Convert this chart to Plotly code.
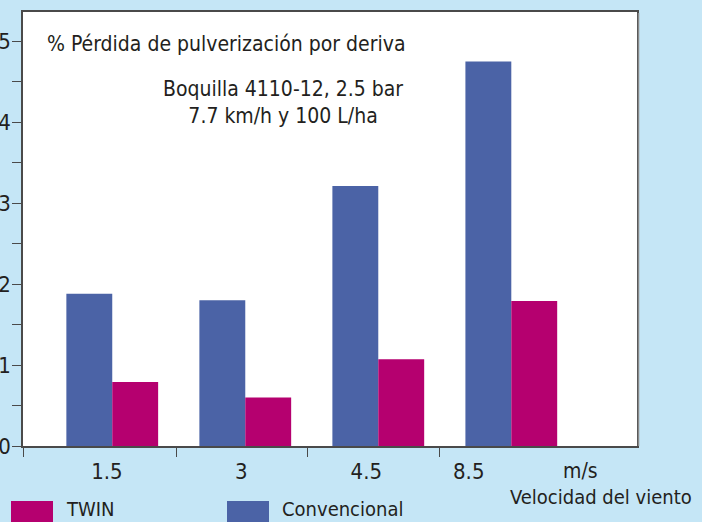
import plotly.graph_objects as go

categories = ["1.5", "3", "4.5", "8.5"]
convencional = [1.88, 1.80, 3.21, 4.75]
twin = [0.79, 0.60, 1.07, 1.79]
y_ticks = [0, 1, 2, 3, 4, 5]

FONT = "Liberation Sans Narrow, DejaVu Sans Condensed, Roboto, sans-serif"
TXT = "#231f20"
BLUE = "#4b63a6"
MAG = "#b5006f"
BG = "#c5e6f6"

W, H = 702, 522
L, R, T, B = 23, 637, 12, 446


def px(x):
    return (x - L) / (R - L)


def py(y):
    return (B - y) / (B - T)


pos = list(range(len(categories)))

fig = go.Figure()
fig.add_bar(x=pos, y=convencional, name="Convencional", marker_color=BLUE,
            marker_line_width=0, showlegend=False)
fig.add_bar(x=pos, y=twin, name="TWIN", marker_color=MAG,
            marker_line_width=0, showlegend=False)

label_pos = [-0.04, 0.97, 1.91, 2.68]
bound_pos = [-0.671, 0.48, 1.47, 2.46]

fig.update_layout(
    width=W, height=H,
    margin=dict(l=L, r=W - R, t=T, b=H - B, pad=0, autoexpand=False),
    paper_bgcolor=BG, plot_bgcolor="white",
    barmode="group", bargap=0.31, bargroupgap=0,
    font=dict(family=FONT, color=TXT, size=22),
    xaxis=dict(
        range=[-0.671, 3.945], tickmode="array", tickvals=label_pos,
        ticktext=categories, ticks="", showgrid=False, zeroline=False,
        showline=True, linecolor="#4a4a4a", linewidth=1.5, mirror=True,
        tickfont=dict(size=22, family=FONT, color=TXT),
        ticklabelstandoff=5, automargin=False,
        minor=dict(tickmode="array", tickvals=bound_pos, ticks="outside",
                   ticklen=9, tickwidth=1.3, tickcolor="#4a4a4a", showgrid=False),
    ),
    yaxis=dict(
        range=[0, 5.36], tickmode="array", tickvals=y_ticks,
        ticktext=[str(v) for v in y_ticks], ticks="outside", ticklen=9,
        tickwidth=1.3, tickcolor="#4a4a4a", showgrid=False, zeroline=False,
        showline=True, linecolor="#4a4a4a", linewidth=1.5, mirror=True,
        tickfont=dict(size=22, family=FONT, color=TXT), automargin=False,
        ticklabelstandoff=-3,
        minor=dict(dtick=0.5, tick0=0, ticks="outside", ticklen=9,
                   tickwidth=1.3, tickcolor="#4a4a4a", showgrid=False),
    ),
)

ann = [
    dict(text="% Pérdida de pulverización por deriva", x=px(45), y=py(44),
         xanchor="left", yanchor="middle", font=dict(size=21)),
    dict(text="Boquilla 4110-12, 2.5 bar<br>7.7 km/h y 100 L/ha", x=px(283), y=py(102),
         xanchor="center", yanchor="middle", font=dict(size=21)),
    dict(text="m/s", x=px(580), y=py(471), xanchor="center", yanchor="middle",
         font=dict(size=21)),
    dict(text="Velocidad del viento", x=px(694), y=py(497), xanchor="right",
         yanchor="middle", font=dict(size=20)),
    dict(text="TWIN", x=px(64), y=py(509), xanchor="left", yanchor="middle",
         font=dict(size=20)),
    dict(text="Convencional", x=px(280), y=py(509), xanchor="left",
         yanchor="middle", font=dict(size=20)),
]
for a in ann:
    a.update(xref="paper", yref="paper", showarrow=False, align="center")
    a["font"].update(family=FONT, color=TXT)
fig.update_layout(annotations=ann)

fig.add_shape(type="rect", xref="paper", yref="paper", x0=px(11), x1=px(53),
              y0=py(501), y1=py(530), fillcolor=MAG, line_width=0)
fig.add_shape(type="rect", xref="paper", yref="paper", x0=px(227), x1=px(269),
              y0=py(501), y1=py(530), fillcolor=BLUE, line_width=0)
# subtle shadow on the right border of the frame
fig.add_shape(type="line", xref="paper", yref="paper", x0=px(638.5), x1=px(638.5),
              y0=py(446), y1=py(13), line=dict(color="#8a8a8a", width=1.5))

fig.write_html(
    "out.html",
    config={"displayModeBar": False},
    post_script="document.body.style.margin='0px';"
                "document.body.style.background='" + BG + "';"
                "document.body.style.overflow='hidden';",
)
